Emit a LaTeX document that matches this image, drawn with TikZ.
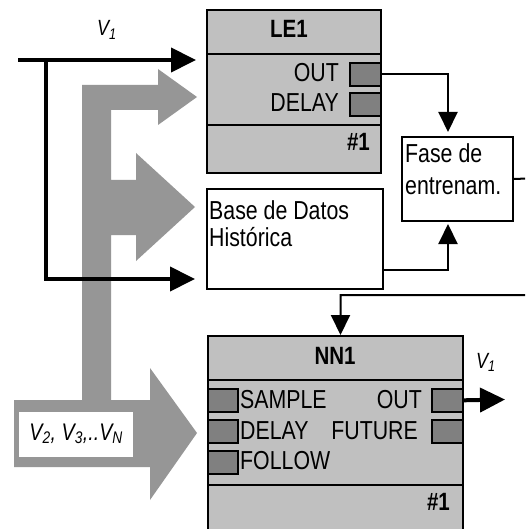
\documentclass[tikz,border=0pt]{standalone}
\usepackage{fontspec}
\setmainfont{Liberation Sans}[FakeStretch=0.82]
\usetikzlibrary{arrows.meta,calc}
\definecolor{boxgray}{RGB}{192,192,192}
\definecolor{portgray}{RGB}{128,128,128}
\definecolor{arrowgray}{RGB}{150,150,150}
\tikzset{
 blk/.style={draw=black, line width=2pt, fill=boxgray, rectangle, inner sep=0pt, anchor=north west},
 port/.style={draw=black, line width=1.6pt, fill=portgray, minimum width=31pt, minimum height=23pt, inner sep=0pt, anchor=north west},
 lbl/.style={font=\fontsize{26}{30}\selectfont, inner sep=0pt},
 ttl/.style={font=\fontsize{25}{29}\selectfont\bfseries, inner sep=0pt},
 vlbl/.style={font=\fontsize{22}{26}\selectfont\itshape, inner sep=0pt},
 vbig/.style={font=\fontsize{24}{28}\selectfont\itshape, inner sep=0pt},
 wbox/.style={draw=black, line width=2pt, fill=white, inner sep=0pt, anchor=north west},
 divider/.style={line width=2pt},
 conn/.style={line width=2pt, -{Triangle[length=20pt,width=19pt]}},
 bigconn/.style={line width=4pt, -{Triangle[length=25pt,width=24pt]}},
}
\begin{document}
\begin{tikzpicture}[x=1pt,y=-1pt]
\useasboundingbox (0,0) rectangle (525,529);
\fill[white] (0,0) rectangle (525,529);
\clip (0,0) rectangle (525,529);

% gray fork arrow
\fill[arrowgray] (82,85) -- (158,85) -- (158,69) -- (197,97) -- (158,125) -- (158,110)
  -- (111,110) -- (111,180) -- (136,180) -- (136,153) -- (195,207) -- (136,261) -- (136,235)
  -- (111,235) -- (111,400) -- (150,400) -- (150,368) -- (197,433) -- (150,500) -- (150,467)
  -- (14,467) -- (14,400) -- (82,400) -- cycle;
\node[fill=white, minimum width=114pt, minimum height=45pt, inner sep=0pt, anchor=north west] (vbox) at (19,412) {};
\node[vbig] (vtext) at ([yshift=1pt]vbox.center) {V\textsubscript{2}, V\textsubscript{3},..V\textsubscript{N}};

% LE1 block
\node[blk, minimum width=174pt, minimum height=163pt] (LE1) at (206,9) {};
\draw[divider] (LE1.west |- 0,54) -- (LE1.east |- 0,54);
\draw[divider] (LE1.west |- 0,125) -- (LE1.east |- 0,125);
\node[ttl] (tLE) at (289,29) {LE1};
\node[port] (LEout) at (349,62) {};
\node[port] (LEdel) at (349,92) {};
\node[lbl, anchor=base east] (tLEout) at (339,82) {OUT};
\node[lbl, anchor=base east] (tLEdel) at (339,112) {DELAY};
\node[ttl, anchor=base east] (tLEnum) at (370,151) {\#1};

% Fase box
\node[wbox, minimum width=111pt, minimum height=84pt] (fase) at (401,136) {};
\node[lbl, anchor=base west] (tfase1) at (405,163) {Fase de};
\node[lbl, anchor=base west] (tfase2) at (405,195) {entrenam.};

% Base de datos box
\node[wbox, minimum width=176pt, minimum height=100pt] (base) at (206,188) {};
\node[lbl, anchor=base west] (tbase1) at (209,219) {Base de Datos};
\node[lbl, anchor=base west] (tbase2) at (209,246) {Histórica};

% NN1 block
\node[blk, minimum width=255pt, minimum height=200pt] (NN1) at (207,335) {};
\draw[divider] (NN1.west |- 0,380) -- (NN1.east |- 0,380);
\draw[divider] (NN1.west |- 0,485) -- (NN1.east |- 0,485);
\node[ttl] (tNN) at (335,356) {NN1};
\node[port, minimum width=30pt] (NNsample) at (207,388) {};
\node[port, minimum width=30pt] (NNdelay) at (207,419) {};
\node[port, minimum width=30pt] (NNfollow) at (207,450) {};
\node[port] (NNout) at (431,388) {};
\node[port] (NNfut) at (431,419) {};
\node[lbl, anchor=base west] (tsample) at (240,408) {SAMPLE};
\node[lbl, anchor=base east] (tnnout) at (422,408) {OUT};
\node[lbl, anchor=base west] (tdelay) at (240,439) {DELAY};
\node[lbl, anchor=base east] (tfuture) at (418,439) {FUTURE};
\node[lbl, anchor=base west] (tfollow) at (240,469) {FOLLOW};
\node[ttl, anchor=base east] (tNNnum) at (450,510) {\#1};

% V1 labels
\node[vlbl, anchor=base west] (v1top) at (97,36) {V\textsubscript{1}};
\node[vlbl, anchor=base west] (v1out) at (476,368) {V\textsubscript{1}};

% connectors
\coordinate (in1) at (18,60);
\coordinate (j1) at (46,60);
\draw[bigconn, shorten >=10pt] (in1) -- (LE1.west |- in1);
\draw[bigconn, shorten >=11pt] (j1) |- ([yshift=11pt]base.south west);
\draw[conn, shorten >=4pt] (LEout.east) -| ([xshift=47pt]fase.north west);
\draw[conn, shorten >=2pt] ([yshift=20pt]base.south east) -| ([xshift=47pt]fase.south west);
\coordinate (rt1) at (540,178);
\coordinate (rt2) at (540,295);
\draw[conn] (fase.east) -- (rt1) -- (rt2) -| ([xshift=5pt]NN1.north);
\coordinate (outtip) at (505,399.5);
\draw[bigconn] (NNout.east) -- (outtip);
\end{tikzpicture}
\end{document}
